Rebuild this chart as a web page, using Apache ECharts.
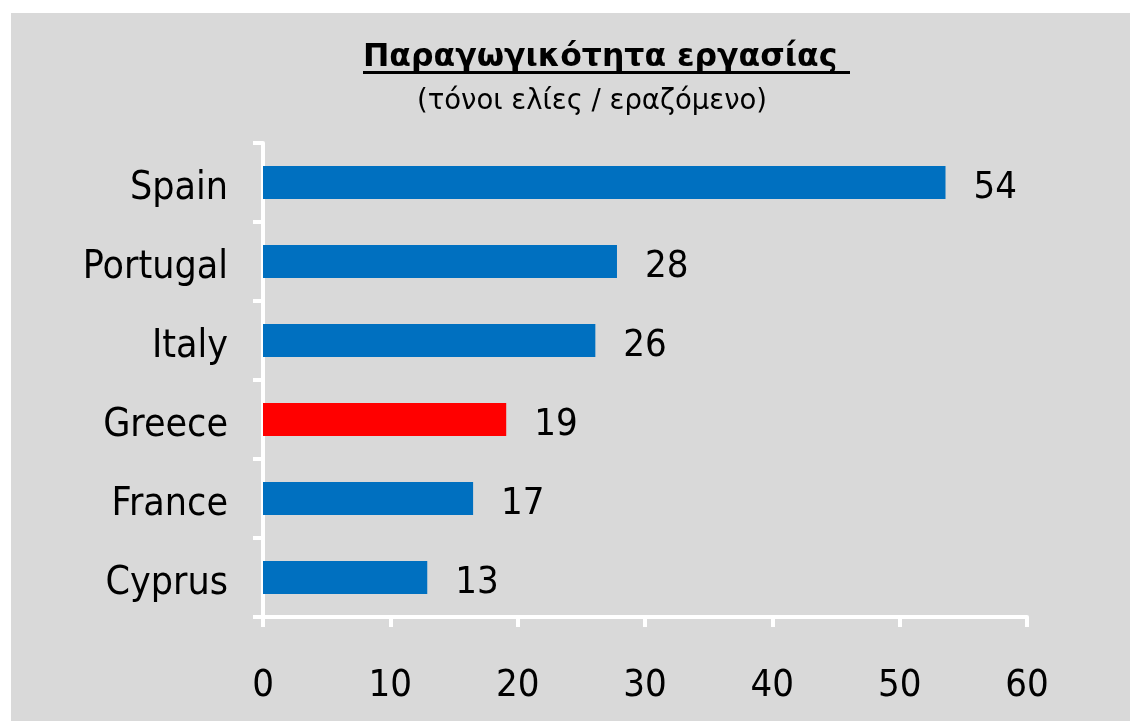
<!DOCTYPE html>
<html>
<head>
<meta charset="utf-8">
<script src="https://cdn.jsdelivr.net/npm/echarts@6/dist/echarts.min.js"></script>
<style>
  html, body { margin: 0; padding: 0; background: #fff; }
  #box { position: absolute; left: 11px; top: 13px; width: 1119px; height: 708px; background: #d9d9d9; }
  #main { width: 1119px; height: 708px; }
</style>
</head>
<body>
<div id="box"><div id="main"></div></div>
<script>
// data
var countries = ['Spain', 'Portugal', 'Italy', 'Greece', 'France', 'Cyprus'];
var values = [53.6, 27.8, 26.1, 19.1, 16.5, 12.9];
var barLabels = ['54', '28', '26', '19', '17', '13'];
var highlight = 'Greece';

var titleText = 'Παραγωγικότητα εργασίας';
var subText = '(τόνοι ελίες / εραζόμενο)';

var myChart = echarts.init(document.getElementById('main'));

var option = {
    backgroundColor: 'transparent',
    animation: false,
    title: [
        {
            text: titleText,
            left: 352, top: 29, padding: 0,
            textStyle: { fontFamily: 'DejaVu Sans', fontWeight: 'bold', fontSize: 31.5, color: '#000' }
        },
        {
            text: subText,
            left: 406, top: 75, padding: 0,
            textStyle: { fontFamily: 'DejaVu Sans', fontWeight: 'normal', fontSize: 27.5, color: '#000' }
        }
    ],
    // underline of the title
    graphic: [{
        type: 'rect',
        shape: { x: 352, y: 58, width: 487, height: 3 },
        style: { fill: '#000' }
    }],
    grid: { left: 252, right: 103, top: 130, bottom: 104, containLabel: false },
    xAxis: {
        type: 'value',
        min: 0, max: 60, interval: 10,
        axisLine: { show: true, lineStyle: { color: '#fff', width: 4 } },
        axisTick: { show: true, length: 10, lineStyle: { color: '#fff', width: 4 } },
        splitLine: { show: false },
        axisLabel: { margin: 50, fontFamily: 'DejaVu Sans Condensed', fontSize: 38, color: '#000' }
    },
    yAxis: {
        type: 'category',
        inverse: true,
        data: countries,
        axisLine: { show: true, lineStyle: { color: '#fff', width: 4 } },
        axisTick: { show: true, length: 10, lineStyle: { color: '#fff', width: 4 } },
        axisLabel: {
            margin: 35,
            formatter: function (v) { return '{c|' + v + '}'; },
            rich: {
                c: { padding: [12, 0, 0, 0], fontFamily: 'DejaVu Sans Condensed', fontSize: 39, color: '#000' }
            }
        }
    },
    series: [{
        type: 'bar',
        barWidth: 33,
        data: values.map(function (v, i) {
            return {
                value: v,
                itemStyle: { color: countries[i] === highlight ? '#ff0000' : '#0070c0' }
            };
        }),
        label: {
            show: true,
            position: 'right',
            distance: 28,
            offset: [0, 6],
            fontFamily: 'DejaVu Sans Condensed',
            fontSize: 38,
            color: '#000',
            formatter: function (p) { return barLabels[p.dataIndex]; }
        }
    }]
};

myChart.setOption(option);
window.onresize = myChart.resize;
</script>
</body>
</html>
